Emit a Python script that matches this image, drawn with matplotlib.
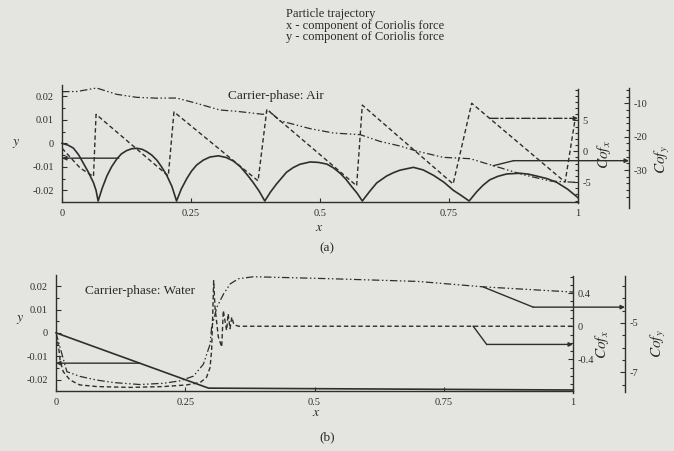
import matplotlib
matplotlib.use('Agg')
import matplotlib.pyplot as plt
from matplotlib.ticker import MultipleLocator, FixedLocator

plt.rcParams['font.family'] = ['Liberation Serif', 'DejaVu Serif']
plt.rcParams['mathtext.fontset'] = 'stix'

W, H = 674, 451
BG = '#e4e4e1'
INK = '#2e2e2e'

# ---------------- data: panel (a) carrier phase air ----------------
air_traj_x = [0, 0.011, 0.022, 0.032, 0.041, 0.051, 0.061, 0.066, 0.070,
              0.078, 0.087, 0.096, 0.106, 0.115, 0.125, 0.135, 0.145, 0.155, 0.164,
              0.174, 0.184, 0.193, 0.203, 0.213, 0.222,
              0.231, 0.242, 0.251, 0.261, 0.274, 0.287, 0.303, 0.318, 0.332, 0.345,
              0.358, 0.370, 0.382, 0.393,
              0.404, 0.416, 0.435, 0.448, 0.461, 0.481, 0.497, 0.513, 0.526, 0.539,
              0.550, 0.561, 0.572, 0.582,
              0.596, 0.610, 0.629, 0.642, 0.655, 0.681, 0.700, 0.720, 0.740, 0.758,
              0.774, 0.789,
              0.804, 0.816, 0.829, 0.845, 0.862, 0.888, 0.904, 0.920, 0.940, 0.959,
              0.980, 1.0]
air_traj_y = [0, -0.0007, -0.0020, -0.0048, -0.0083, -0.0122, -0.0167, -0.0200, -0.0245,
              -0.0190, -0.0139, -0.0100, -0.0067, -0.0045, -0.0031, -0.0023, -0.0021,
              -0.0025, -0.0035, -0.0050, -0.0072, -0.0100, -0.0136, -0.0183, -0.0245,
              -0.0195, -0.0149, -0.0118, -0.0092, -0.0071, -0.0058, -0.0053, -0.0060,
              -0.0075, -0.0098, -0.0131, -0.0165, -0.0203, -0.0245,
              -0.0207, -0.0172, -0.0123, -0.0103, -0.0089, -0.0079, -0.0081, -0.0088,
              -0.0104, -0.0127, -0.0152, -0.0183, -0.0212, -0.0245,
              -0.0205, -0.0168, -0.0139, -0.0125, -0.0114, -0.0102, -0.0113, -0.0136,
              -0.0165, -0.0199, -0.0222, -0.0245,
              -0.0205, -0.0178, -0.0155, -0.0140, -0.0130, -0.0127, -0.0131, -0.0139,
              -0.0150, -0.0166, -0.0195, -0.0231]

air_cofx_x = [0, 0.012, 0.035, 0.061, 0.066, 0.206, 0.217, 0.380, 0.397,
              0.571, 0.582, 0.758, 0.794, 0.975, 0.994]
air_cofx = [0.5, -0.6, -2.7, -4.1, 6.0, -4.0, 6.4, -4.8, 6.8,
            -5.6, 7.5, -5.3, 7.8, -5.0, 5.0]

air_cofy_x = [0, 0.029, 0.067, 0.106, 0.145, 0.184, 0.222, 0.261, 0.306, 0.339,
              0.390, 0.400, 0.422, 0.481, 0.526, 0.578, 0.616, 0.655, 0.687,
              0.739, 0.791, 0.836, 0.894, 0.946, 0.997]
air_cofy = [-6.5, -6.45, -5.4, -7.3, -8.2, -8.45, -8.4, -10.0, -12.0, -12.4,
            -13.3, -12.1, -15.2, -17.6, -18.9, -19.4, -21.4, -22.8, -24.3,
            -26.2, -26.6, -28.7, -31.4, -33.3, -33.7]

# indicator arrows (a)
air_traj_ind_x = [0.11, 0.0]
air_traj_ind_y = [-0.0063, -0.0063]
air_cofx_ind_x = [0.829, 1.0]
air_cofx_ind_y = [5.35, 5.35]
air_cofy_ind_x = [0.836, 0.875]
air_cofy_ind_y = [-28.7, -27.2]

# ---------------- data: panel (b) carrier phase water ----------------
water_traj_x = [0, 0.295, 1.0]
water_traj_y = [0, -0.0237, -0.0245]

water_cofx_x = [0.0, 0.005, 0.008, 0.014, 0.027, 0.046, 0.079, 0.143, 0.208, 0.253,
                0.279, 0.291, 0.298, 0.301, 0.303, 0.305, 0.3075, 0.314, 0.3205,
                0.3236, 0.330, 0.333, 0.3366, 0.340, 0.344, 0.353, 1.0]
water_cofx = [-0.10, -0.25, -0.41, -0.55, -0.65, -0.71, -0.73, -0.74, -0.73, -0.71,
              -0.68, -0.62, -0.50, -0.29, 0.11, 0.55, 0.23, -0.13, -0.25,
              0.19, -0.05, 0.15, -0.03, 0.11, 0.02, 0.0, 0.0]

water_cofy_x = [0, 0.021, 0.046, 0.079, 0.111, 0.162, 0.208, 0.240, 0.266, 0.285,
                0.298, 0.301, 0.311, 0.324, 0.337, 0.353, 0.382, 0.530, 0.700,
                0.827, 1.0]
water_cofy = [-5.4, -6.97, -7.16, -7.31, -7.41, -7.49, -7.44, -7.34, -7.15, -6.67,
              -5.86, -5.18, -4.37, -3.83, -3.42, -3.21, -3.13, -3.21, -3.32,
              -3.54, -3.75]

water_traj_ind_x = [0.162, 0.0]
water_traj_ind_y = [-0.013, -0.013]
water_cofx_ind_x = [0.807, 0.833, 1.0]
water_cofx_ind_y = [0.0, -0.22, -0.22]
water_cofy_ind_x = [0.827, 0.923]
water_cofy_ind_y = [-3.55, -4.36]

# ---------------- ticks / labels ----------------
x_ticks = [0, 0.25, 0.5, 0.75, 1]
x_ticklabels = ['0', '0.25', '0.5', '0.75', '1']
y_ticks = [-0.02, -0.01, 0, 0.01, 0.02]
y_ticklabels = ['-0.02', '-0.01', '0', '0.01', '0.02']
air_cofx_ticks = [-5, 0, 5]
air_cofx_labels = ['-5', '0', '5']
air_cofy_ticks = [-40, -30, -20, -10]
air_cofy_labels = ['-40', '-30', '-20', '-10']
water_cofx_ticks = [-0.8, -0.4, 0, 0.4]
water_cofx_labels = ['-0.8', '-0.4', '0', '0.4']
water_cofy_ticks = [-7, -5]
water_cofy_labels = ['-7', '-5']

legend_texts = ['Particle trajectory',
                'x - component of Coriolis force',
                'y - component of Coriolis force']

fig = plt.figure(figsize=(W / 100, H / 100), dpi=100, facecolor=BG)


def fx(x):
    return x / W


def fy(y):
    return 1 - y / H


LS_TRAJ = '-'
LS_X = (0, (3.2, 2.0))
LS_Y = (0, (6, 2, 1.2, 2, 1.2, 2))


def style_ticks(a, major, labels, minor, pad):
    a.yaxis.set_major_locator(FixedLocator(major))
    a.set_yticklabels(labels)
    if minor:
        a.yaxis.set_minor_locator(MultipleLocator(minor))
    a.tick_params(axis='y', which='both', direction='in', colors=INK,
                  labelsize=7.5, pad=pad, width=0.8)
    a.tick_params(axis='y', which='major', length=3.5)
    a.tick_params(axis='y', which='minor', length=2)


def panel(left, top, right, bottom, traj, cofx, cofy, cofx_lim, cofx_bounds,
          cofx_ticks, cofx_labels, cofx_minor, cofy_lim, cofy_bounds, cofy_ticks,
          cofy_labels, cofy_minor, cofy_off, inds):
    ax = fig.add_axes([fx(left), fy(bottom), (right - left) / W, (bottom - top) / H])
    ax.set_facecolor('none')
    ax.set_xlim(0, 1)
    ax.set_ylim(-0.0248, 0.0248)
    for s in ['top', 'right']:
        ax.spines[s].set_visible(False)
    for s in ['left', 'bottom']:
        ax.spines[s].set_color(INK)
        ax.spines[s].set_linewidth(1.0)
    ax.set_xticks(x_ticks)
    ax.set_xticklabels(x_ticklabels)
    ax.tick_params(axis='x', direction='in', length=3, colors=INK, labelsize=7.5,
                   pad=5, width=0.8)
    style_ticks(ax, y_ticks, y_ticklabels, 0.005, 6)

    ax2 = ax.twinx()
    ax2.set_ylim(*cofx_lim)
    for s in ['top', 'left', 'bottom']:
        ax2.spines[s].set_visible(False)
    ax2.spines['right'].set_bounds(*cofx_bounds)
    ax2.spines['right'].set_color(INK)
    ax2.spines['right'].set_linewidth(1.0)
    style_ticks(ax2, cofx_ticks, cofx_labels, cofx_minor, 3)

    ax3 = ax.twinx()
    ax3.set_ylim(*cofy_lim)
    for s in ['top', 'left', 'bottom']:
        ax3.spines[s].set_visible(False)
    ax3.spines['right'].set_position(('axes', cofy_off))
    ax3.spines['right'].set_bounds(*cofy_bounds)
    ax3.spines['right'].set_color(INK)
    ax3.spines['right'].set_linewidth(1.0)
    style_ticks(ax3, cofy_ticks, cofy_labels, cofy_minor, 3)

    ax.plot(traj[0], traj[1], color=INK, lw=1.2, ls=LS_TRAJ, clip_on=False)
    ax2.plot(cofx[0], cofx[1], color=INK, lw=1.0, ls=LS_X)
    ax3.plot(cofy[0], cofy[1], color=INK, lw=0.9, ls=LS_Y)

    (tix, tiy), (cxx, cxy, cx_ls), (cyx, cyy) = inds
    arrow = dict(arrowstyle='-|>', color=INK, lw=1.0, mutation_scale=6,
                 shrinkA=0, shrinkB=0)
    ax.annotate('', xy=(tix[-1], tiy[-1]), xytext=(tix[0], tiy[0]),
                arrowprops=arrow, annotation_clip=False)
    if len(cxx) > 2:
        ax2.plot(cxx[:-1], cxy[:-1], color=INK, lw=1.0, ls=cx_ls)
    a2 = dict(arrow)
    a2['linestyle'] = cx_ls
    ax2.annotate('', xy=(cxx[-1], cxy[-1]), xytext=(cxx[-2], cxy[-2]),
                 arrowprops=a2, annotation_clip=False)
    ax3.plot(cyx, cyy, color=INK, lw=1.0)
    ax3.annotate('', xy=(cofy_off, cyy[-1]), xycoords=('axes fraction', 'data'),
                 xytext=(cyx[-1], cyy[-1]), textcoords='data',
                 arrowprops=arrow, annotation_clip=False)
    return ax


# panel (a)
panel(62, 85, 578, 201.7,
      (air_traj_x, air_traj_y), (air_cofx_x, air_cofx), (air_cofy_x, air_cofy),
      (-8.18, 10.76), (-8.4, 10.1), air_cofx_ticks, air_cofx_labels, 1,
      (-39.5, -4.5), (-41.5, -5.5), air_cofy_ticks, air_cofy_labels, 2,
      1 + 51 / 516,
      ((air_traj_ind_x, air_traj_ind_y),
       (air_cofx_ind_x, air_cofx_ind_y, (0, (6, 2, 1.5, 2))),
       (air_cofy_ind_x, air_cofy_ind_y)))

# panel (b)
panel(56, 275, 573, 390.7,
      (water_traj_x, water_traj_y), (water_cofx_x, water_cofx),
      (water_cofy_x, water_cofy),
      (-0.78, 0.62), (-0.81, 0.606), water_cofx_ticks, water_cofx_labels, 0.1,
      (-7.74, -3.06), (-7.8, -3.1), water_cofy_ticks, water_cofy_labels, 0.5,
      1 + 52 / 517,
      ((water_traj_ind_x, water_traj_ind_y),
       (water_cofx_ind_x, water_cofx_ind_y, '-'),
       (water_cofy_ind_x, water_cofy_ind_y)))

# texts
TXT = '#2a2a2a'
for i, t in enumerate(legend_texts):
    fig.text(fx(286), fy(17 + i * 11.5), t, fontsize=9, color=TXT,
             ha='left', va='baseline')

fig.text(fx(276), fy(96), 'Carrier-phase: Air', fontsize=9.5, color=TXT,
         ha='center', va='center')
fig.text(fx(140), fy(291), 'Carrier-phase: Water', fontsize=9.5, color=TXT,
         ha='center', va='center')

fig.text(fx(16), fy(143), '$y$', fontsize=10, color=TXT, ha='center', va='center')
fig.text(fx(20), fy(320), '$y$', fontsize=10, color=TXT, ha='center', va='center')
fig.text(fx(319), fy(228), '$x$', fontsize=10, color=TXT, ha='center', va='center')
fig.text(fx(316), fy(413), '$x$', fontsize=10, color=TXT, ha='center', va='center')
fig.text(fx(327), fy(248), '(a)', fontsize=9.5, color=TXT, ha='center', va='center')
fig.text(fx(327), fy(437), '(b)', fontsize=9.5, color=TXT, ha='center', va='center')

fig.text(fx(604), fy(155), '$Cof_x$', fontsize=11, color=TXT, rotation=90,
         ha='center', va='center')
fig.text(fx(662), fy(160), '$Cof_y$', fontsize=11, color=TXT, rotation=90,
         ha='center', va='center')
fig.text(fx(602), fy(345), '$Cof_x$', fontsize=11, color=TXT, rotation=90,
         ha='center', va='center')
fig.text(fx(658), fy(344), '$Cof_y$', fontsize=11, color=TXT, rotation=90,
         ha='center', va='center')

fig.savefig('out.png', dpi=100, facecolor=BG)
